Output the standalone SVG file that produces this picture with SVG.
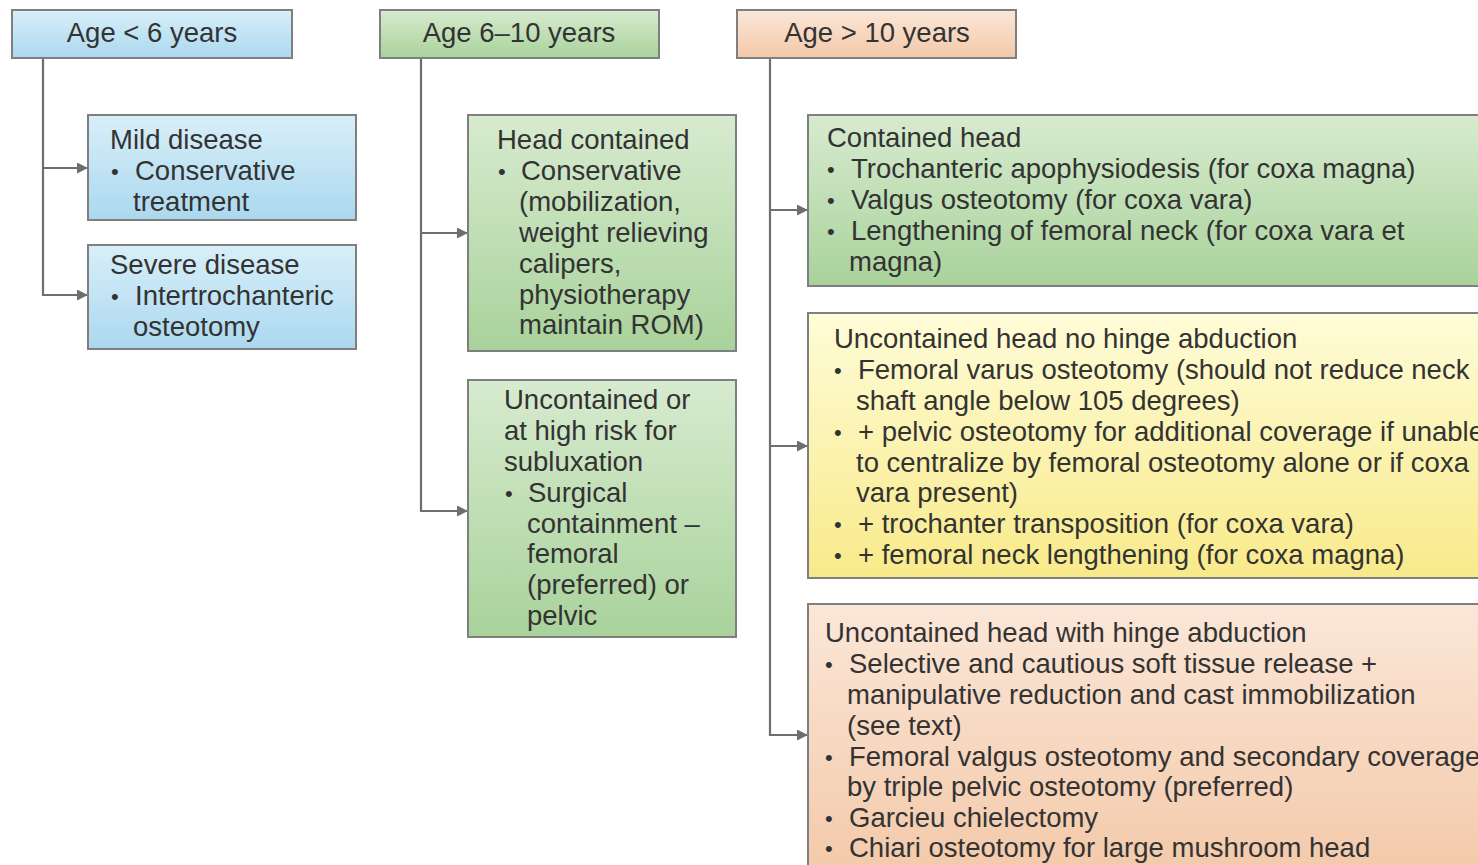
<svg xmlns="http://www.w3.org/2000/svg" width="1478" height="865" viewBox="0 0 1478 865">
<defs>
<linearGradient id="gBlue" x1="0" y1="0" x2="0" y2="1"><stop offset="0" stop-color="#d8eff9"/><stop offset="1" stop-color="#abd8ef"/></linearGradient>
<linearGradient id="gGreen" x1="0" y1="0" x2="0" y2="1"><stop offset="0" stop-color="#d7ebcf"/><stop offset="1" stop-color="#a9d29b"/></linearGradient>
<linearGradient id="gPeach" x1="0" y1="0" x2="0" y2="1"><stop offset="0" stop-color="#fbe7d8"/><stop offset="1" stop-color="#f3c8a8"/></linearGradient>
<linearGradient id="gYellow" x1="0" y1="0" x2="0" y2="1"><stop offset="0" stop-color="#fffcd8"/><stop offset="1" stop-color="#f8ea8a"/></linearGradient>
<marker id="arr" viewBox="0 0 10 10" refX="10" refY="5" markerWidth="11" markerHeight="11" markerUnits="userSpaceOnUse" orient="auto"><path d="M0,0 L10,5 L0,10 Z" fill="#6e6e6e"/></marker>
</defs>
<style>
.box{stroke:#7f7f7f;stroke-width:2}
.t{font-family:"Liberation Sans",Arial,sans-serif;font-size:27.5px;fill:#333333}
.b{font-size:22px}
.c{fill:none;stroke:#6e6e6e;stroke-width:2.2}
</style>
<rect width="1478" height="865" fill="#ffffff"/>
<g id="connectors">
<path class="c" d="M43,58 V295 H88" marker-end="url(#arr)"/>
<path class="c" d="M43,168 H88" marker-end="url(#arr)"/>
<path class="c" d="M421,58 V511 H468" marker-end="url(#arr)"/>
<path class="c" d="M421,233 H468" marker-end="url(#arr)"/>
<path class="c" d="M770,58 V735 H808" marker-end="url(#arr)"/>
<path class="c" d="M770,210 H808" marker-end="url(#arr)"/>
<path class="c" d="M770,446 H808" marker-end="url(#arr)"/>
</g>
<g id="age-lt6">
<rect class="box" x="12" y="10" width="280" height="48" fill="url(#gBlue)"/>
<text class="t" x="152" y="42" text-anchor="middle">Age &lt; 6 years</text>
</g>
<g id="age-6-10">
<rect class="box" x="380" y="10" width="279" height="48" fill="url(#gGreen)"/>
<text class="t" x="519" y="42" text-anchor="middle">Age 6–10 years</text>
</g>
<g id="age-gt10">
<rect class="box" x="737" y="10" width="279" height="48" fill="url(#gPeach)"/>
<text class="t" x="877" y="42" text-anchor="middle">Age &gt; 10 years</text>
</g>
<g id="mild">
<rect class="box" x="88" y="115" width="268" height="105" fill="url(#gBlue)"/>
<text class="t"><tspan x="110" y="149">Mild disease</tspan><tspan class="b" x="111" y="179">•</tspan><tspan x="135" y="180">Conservative</tspan><tspan x="133" y="211">treatment</tspan></text>
</g>
<g id="severe">
<rect class="box" x="88" y="245" width="268" height="104" fill="url(#gBlue)"/>
<text class="t"><tspan x="110" y="274">Severe disease</tspan><tspan class="b" x="111" y="304">•</tspan><tspan x="135" y="305">Intertrochanteric</tspan><tspan x="133" y="336">osteotomy</tspan></text>
</g>
<g id="head-contained">
<rect class="box" x="468" y="115" width="268" height="236" fill="url(#gGreen)"/>
<text class="t"><tspan x="497" y="149">Head contained</tspan><tspan class="b" x="498" y="179">•</tspan><tspan x="521" y="180">Conservative</tspan><tspan x="519" y="211">(mobilization,</tspan><tspan x="519" y="242">weight relieving</tspan><tspan x="519" y="273">calipers,</tspan><tspan x="519" y="304">physiotherapy</tspan><tspan x="519" y="334">maintain ROM)</tspan></text>
</g>
<g id="uncontained-mid">
<rect class="box" x="468" y="380" width="268" height="257" fill="url(#gGreen)"/>
<text class="t"><tspan x="504" y="409">Uncontained or</tspan><tspan x="504" y="440">at high risk for</tspan><tspan x="504" y="471">subluxation</tspan><tspan class="b" x="505" y="501">•</tspan><tspan x="528" y="502">Surgical</tspan><tspan x="527" y="533">containment –</tspan><tspan x="527" y="563">femoral</tspan><tspan x="527" y="594">(preferred) or</tspan><tspan x="527" y="625">pelvic</tspan></text>
</g>
<g id="contained-head">
<rect class="box" x="808" y="115" width="682" height="171" fill="url(#gGreen)"/>
<text class="t"><tspan x="827" y="147">Contained head</tspan><tspan class="b" x="827" y="177">•</tspan><tspan x="851" y="178">Trochanteric apophysiodesis (for coxa magna)</tspan><tspan class="b" x="827" y="208">•</tspan><tspan x="851" y="209">Valgus osteotomy (for coxa vara)</tspan><tspan class="b" x="827" y="239">•</tspan><tspan x="851" y="240">Lengthening of femoral neck (for coxa vara et</tspan><tspan x="849" y="271">magna)</tspan></text>
</g>
<g id="uncontained-no-hinge">
<rect class="box" x="808" y="313" width="682" height="265" fill="url(#gYellow)"/>
<text class="t"><tspan x="834" y="348">Uncontained head no hinge abduction</tspan><tspan class="b" x="834" y="378">•</tspan><tspan x="858" y="379">Femoral varus osteotomy (should not reduce neck</tspan><tspan x="856" y="410">shaft angle below 105 degrees)</tspan><tspan class="b" x="834" y="440">•</tspan><tspan x="858" y="441">+ pelvic osteotomy for additional coverage if unable</tspan><tspan x="856" y="472">to centralize by femoral osteotomy alone or if coxa</tspan><tspan x="856" y="502">vara present)</tspan><tspan class="b" x="834" y="532">•</tspan><tspan x="858" y="533">+ trochanter transposition (for coxa vara)</tspan><tspan class="b" x="834" y="563">•</tspan><tspan x="858" y="564">+ femoral neck lengthening (for coxa magna)</tspan></text>
</g>
<g id="uncontained-hinge">
<rect class="box" x="808" y="604" width="682" height="280" fill="url(#gPeach)"/>
<text class="t"><tspan x="825" y="642">Uncontained head with hinge abduction</tspan><tspan class="b" x="825" y="672">•</tspan><tspan x="849" y="673">Selective and cautious soft tissue release +</tspan><tspan x="847" y="704">manipulative reduction and cast immobilization</tspan><tspan x="847" y="735">(see text)</tspan><tspan class="b" x="825" y="765">•</tspan><tspan x="849" y="766">Femoral valgus osteotomy and secondary coverage</tspan><tspan x="847" y="796">by triple pelvic osteotomy (preferred)</tspan><tspan class="b" x="825" y="826">•</tspan><tspan x="849" y="827">Garcieu chielectomy</tspan><tspan class="b" x="825" y="856">•</tspan><tspan x="849" y="857">Chiari osteotomy for large mushroom head</tspan></text>
</g>
</svg>
